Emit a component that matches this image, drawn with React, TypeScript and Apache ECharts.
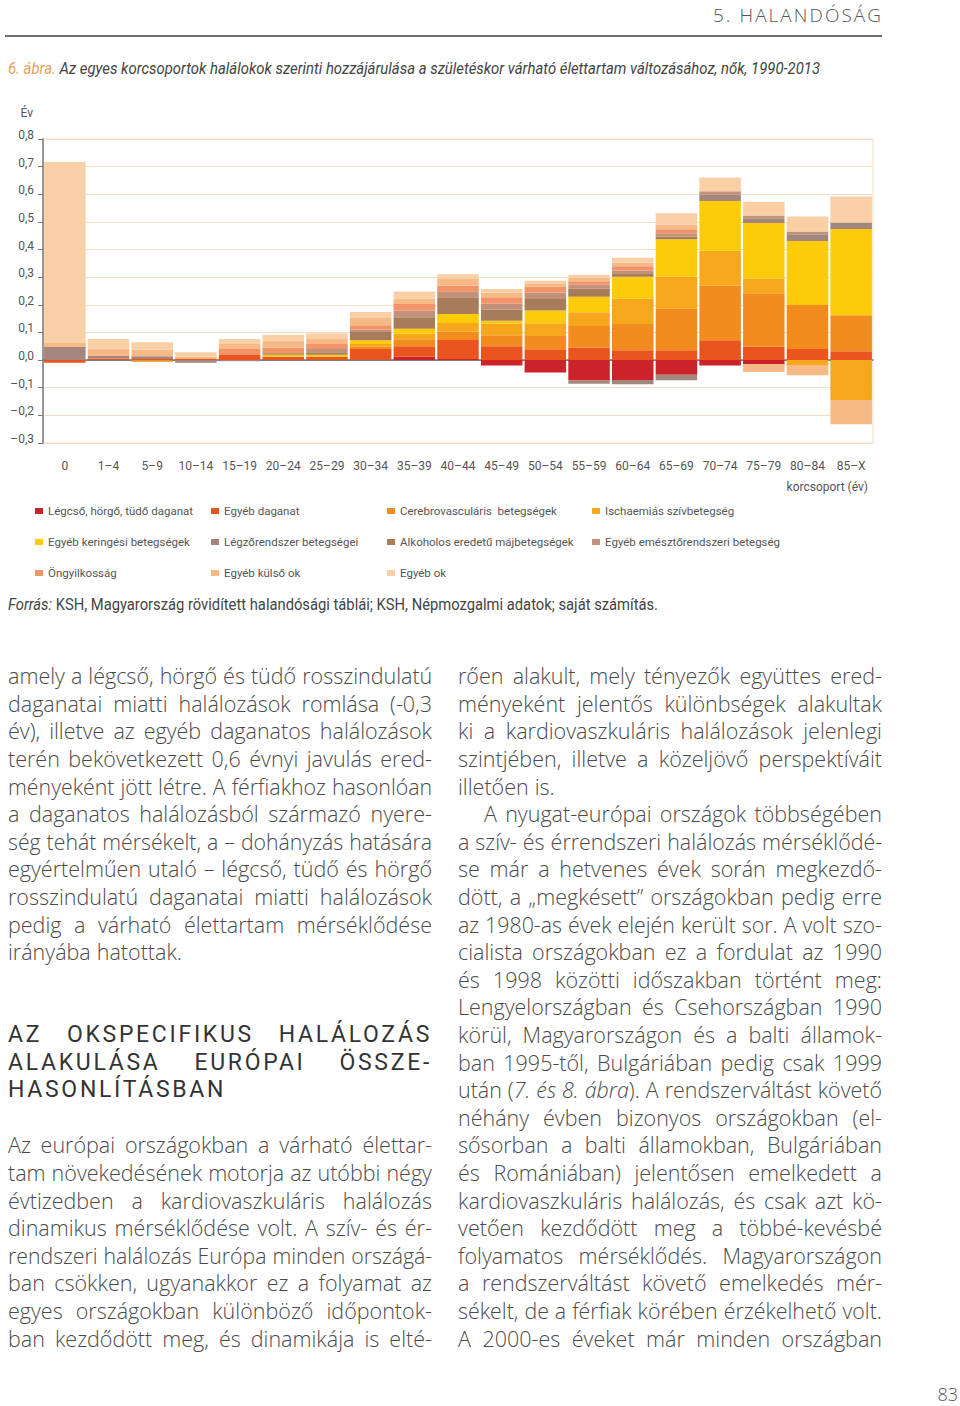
import React, { useEffect, useLayoutEffect, useRef } from 'react';
import * as echarts from 'echarts';

// ---------- DATA ----------
const categories = ['0', '1–4', '5–9', '10–14', '15–19', '20–24', '25–29', '30–34', '35–39', '40–44', '45–49', '50–54', '55–59', '60–64', '65–69', '70–74', '75–79', '80–84', '85–X'];

const seriesNames = [
  'Légcső, hörgő, tüdő daganat',
  'Egyéb daganat',
  'Cerebrovasculáris  betegségek',
  'Ischaemiás szívbetegség',
  'Egyéb keringési betegségek',
  'Légzőrendszer betegségei',
  'Alkoholos eredetű májbetegségek',
  'Egyéb emésztőrendszeri betegség',
  'Öngyilkosság',
  'Egyéb külső ok',
  'Egyéb ok',
];

const legcso = [0, 0, 0, 0, 0, 0, 0, 0.002, 0.012, 0.004, -0.02, -0.045, -0.074, -0.072, -0.053, -0.02, -0.014, 0, 0];
const egyebDaganat = [-0.01, 0.006, 0.004, 0.006, 0.018, 0.012, 0.012, 0.038, 0.038, 0.069, 0.05, 0.039, 0.045, 0.036, 0.036, 0.072, 0.048, 0.04, 0.032];
const cerebro = [0, 0, -0.006, 0, 0, 0, 0, 0.008, 0.025, 0.03, 0.04, 0.048, 0.078, 0.095, 0.15, 0.197, 0.194, 0.159, 0.13];
const ischaemias = [0, 0, 0, 0, 0, 0, 0, 0.01, 0.02, 0.031, 0.042, 0.046, 0.05, 0.091, 0.116, 0.127, 0.053, -0.018, -0.144];
const egyebKeringesi = [0, 0, 0, 0, 0, 0.007, 0.007, 0.014, 0.018, 0.033, 0.01, 0.046, 0.056, 0.08, 0.135, 0.18, 0.201, 0.232, 0.312];
const legzo = [0.047, 0.009, 0.01, -0.01, -0.004, 0, 0, 0, 0, 0, 0, 0, -0.012, -0.015, -0.02, 0.023, 0.017, 0.024, 0.024];
const alkoholos = [0, 0, 0, 0, 0, 0.006, 0.009, 0.03, 0.042, 0.06, 0.041, 0.042, 0.029, 0.012, 0.01, 0, 0, 0, 0];
const egyebEmeszto = [0, 0, 0, 0, 0, 0, 0.012, 0.008, 0.024, 0.022, 0.022, 0.024, 0.015, 0.01, 0.012, 0.012, 0.01, 0.01, 0];
const ongyilkossag = [0, 0, 0, 0, 0.022, 0.021, 0.018, 0.016, 0.024, 0.02, 0.022, 0.02, 0.012, 0.016, 0.014, 0, 0, 0, 0];
const egyebKulso = [0.015, 0.027, 0.024, 0.007, 0.018, 0.024, 0.018, 0.026, 0.02, 0.024, 0.017, 0.01, 0.012, 0.012, 0.018, 0, -0.029, -0.037, -0.088];
const egyebOk = [0.655, 0.034, 0.027, 0.015, 0.018, 0.022, 0.021, 0.022, 0.025, 0.018, 0.013, 0.012, 0.012, 0.018, 0.04, 0.05, 0.05, 0.055, 0.094];

const seriesData = [legcso, egyebDaganat, cerebro, ischaemias, egyebKeringesi, legzo, alkoholos, egyebEmeszto, ongyilkossag, egyebKulso, egyebOk];

const colors = ['#cc2229', '#e9541f', '#f28c1f', '#f7a71b', '#fdcb09', '#a3877e', '#a77c5a', '#c19279', '#f29467', '#f7b986', '#f9cfa5'];

const yMin = -0.3;
const yMax = 0.8;
const yStep = 0.1;

const legendColumns = [
  [0, 4, 8],
  [1, 5, 9],
  [2, 6, 10],
  [3, 7],
];
const legendLefts = [30, 206, 382, 587];

// ---------- TEXT ----------
const leftPara1 = [
  'amely a légcső, hörgő és tüdő rosszindulatú',
  'daganatai miatti halálozások romlása (-0,3',
  'év), illetve az egyéb daganatos halálozások',
  'terén bekövetkezett 0,6 évnyi javulás ered-',
  'ményeként jött létre. A férfiakhoz hasonlóan',
  'a daganatos halálozásból származó nyere-',
  'ség tehát mérsékelt, a – dohányzás hatására',
  'egyértelműen utaló – légcső, tüdő és hörgő',
  'rosszindulatú daganatai miatti halálozások',
  'pedig a várható élettartam mérséklődése',
  'irányába hatottak.',
];
const headingLines = ['AZ OKSPECIFIKUS HALÁLOZÁS', 'ALAKULÁSA EURÓPAI ÖSSZE-', 'HASONLÍTÁSBAN'];
const leftPara2 = [
  'Az európai országokban a várható élettar-',
  'tam növekedésének motorja az utóbbi négy',
  'évtizedben a kardiovaszkuláris halálozás',
  'dinamikus mérséklődése volt. A szív- és ér-',
  'rendszeri halálozás Európa minden országá-',
  'ban csökken, ugyanakkor ez a folyamat az',
  'egyes országokban különböző időpontok-',
  'ban kezdődött meg, és dinamikája is elté-',
];
const rightLines = [
  'rően alakult, mely tényezők együttes ered-',
  'ményeként jelentős különbségek alakultak',
  'ki a kardiovaszkuláris halálozások jelenlegi',
  'szintjében, illetve a közeljövő perspektíváit',
  'illetően is.',
  'A nyugat-európai országok többségében',
  'a szív- és érrendszeri halálozás mérséklődé-',
  'se már a hetvenes évek során megkezdő-',
  'dött, a „megkésett” országokban pedig erre',
  'az 1980-as évek elején került sor. A volt szo-',
  'cialista országokban ez a fordulat az 1990',
  'és 1998 közötti időszakban történt meg:',
  'Lengyelországban és Csehországban 1990',
  'körül, Magyarországon és a balti államok-',
  'ban 1995-től, Bulgáriában pedig csak 1999',
  'után (|7. és 8. ábra|). A rendszerváltást követő',
  'néhány évben bizonyos országokban (el-',
  'sősorban a balti államokban, Bulgáriában',
  'és Romániában) jelentősen emelkedett a',
  'kardiovaszkuláris halálozás, és csak azt kö-',
  'vetően kezdődött meg a többé-kevésbé',
  'folyamatos mérséklődés. Magyarországon',
  'a rendszerváltást követő emelkedés mér-',
  'sékelt, de a férfiak körében érzékelhető volt.',
  'A 2000-es éveket már minden országban',
];
const rightLastLines = [4];
const rightIndented = [5];

const CHARTFONT = "'Roboto', 'Liberation Sans', sans-serif";
const BODY = "'Open Sans', 'Lato', sans-serif";
const HEAD = "'Roboto', 'Open Sans', sans-serif";
const LH = 27.6;

// Parse a line into words, with |...| marking italic runs
function parseWords(text: string) {
  const words: { parts: { t: string; it: boolean }[] }[] = [];
  let italic = false;
  for (const w of text.split(' ')) {
    const parts: { t: string; it: boolean }[] = [];
    let buf = '';
    for (const ch of w) {
      if (ch === '|') {
        if (buf) parts.push({ t: buf, it: italic });
        buf = '';
        italic = !italic;
      } else buf += ch;
    }
    if (buf) parts.push({ t: buf, it: italic });
    words.push({ parts });
  }
  return words;
}

function FitLine({ text, justify, top, left, width, style, minGap }: any) {
  const ref = useRef<HTMLDivElement>(null);
  useLayoutEffect(() => {
    const el = ref.current;
    if (!el) return;
    el.style.transform = '';
    el.style.width = width + 'px';
    const natural = el.scrollWidth;
    if (natural > width + 0.5) {
      el.style.width = natural + 'px';
      el.style.transform = `scaleX(${width / natural})`;
    }
  }, [text, width]);
  const words = parseWords(text);
  return (
    <div
      ref={ref}
      style={{
        position: 'absolute',
        top,
        left,
        width,
        height: LH,
        lineHeight: LH + 'px',
        display: 'flex',
        justifyContent: justify ? 'space-between' : 'flex-start',
        columnGap: minGap,
        whiteSpace: 'nowrap',
        transformOrigin: 'left center',
        ...style,
      }}
    >
      {words.map((w, i) => (
        <span key={i}>
          {w.parts.map((p, j) => (p.it ? <i key={j}>{p.t}</i> : <span key={j}>{p.t}</span>))}
        </span>
      ))}
    </div>
  );
}

// Single-line text scaled horizontally to exactly the target width
function FitText({ children, left, top, width, style }: any) {
  const ref = useRef<HTMLSpanElement>(null);
  useLayoutEffect(() => {
    const el = ref.current;
    if (!el) return;
    el.style.transform = '';
    const natural = el.getBoundingClientRect().width;
    if (natural > 0) el.style.transform = `scaleX(${width / natural})`;
  }, []);
  return (
    <span
      ref={ref}
      style={{ position: 'absolute', left, top, whiteSpace: 'nowrap', display: 'inline-block', transformOrigin: 'left center', ...style }}
    >
      {children}
    </span>
  );
}

export default function App() {
  const ref = useRef<HTMLDivElement>(null);

  useEffect(() => {
    const chart = echarts.init(ref.current!, null, { renderer: 'svg' });
    const gridPeach = '#f2ddc6';
    const axisGrey = '#7a7a7a';
    const nLines = Math.round((yMax - yMin) / yStep) + 1;
    const splitColors = Array.from({ length: nLines }, (_, i) =>
      Math.abs(yMin + i * yStep) < 1e-9 ? '#8c8c8c' : gridPeach
    );
    const fmt = (v: number) => {
      const r = Math.round(v * 10) / 10;
      const s = Math.abs(r).toFixed(1).replace('.', ',');
      return r < 0 ? '–' + s : s;
    };
    chart.setOption({
      animation: false,
      textStyle: { fontFamily: CHARTFONT },
      grid: { left: 43, right: 87, top: 49, height: 304, show: true, borderColor: gridPeach, borderWidth: 1 },
      xAxis: {
        type: 'category',
        data: categories,
        axisLine: { lineStyle: { color: axisGrey, width: 1.5 } },
        axisTick: { length: 5, lineStyle: { color: axisGrey } },
        axisLabel: { color: '#555', fontSize: 12, margin: 17, interval: 0, fontFamily: CHARTFONT },
        splitLine: { show: false },
      },
      yAxis: {
        type: 'value',
        min: yMin,
        max: yMax,
        interval: yStep,
        name: 'Év',
        nameLocation: 'end',
        nameGap: 20,
        nameTextStyle: { color: '#555', fontSize: 12, align: 'right', padding: [0, 10, 0, 0], fontFamily: CHARTFONT },
        axisLine: { show: true, lineStyle: { color: axisGrey, width: 1.5 } },
        axisTick: { show: true, length: 5, lineStyle: { color: axisGrey } },
        axisLabel: { color: '#555', fontSize: 12, margin: 9, formatter: fmt, verticalAlign: 'bottom', lineHeight: 8, fontFamily: CHARTFONT },
        splitLine: { show: true, lineStyle: { color: splitColors, width: 1 } },
      },
      legend: legendColumns.map((col, ci) => ({
        data: col.map((i) => seriesNames[i]),
        orient: 'vertical',
        left: legendLefts[ci],
        top: 409,
        itemWidth: 8,
        itemHeight: 6,
        itemGap: 17,
        icon: 'rect',
        selectedMode: false,
        textStyle: { color: '#555', fontSize: 11.5, lineHeight: 14, fontFamily: CHARTFONT },
      })),
      graphic: [
        {
          type: 'text',
          right: 92,
          top: 391,
          style: { text: 'korcsoport (év)', fill: '#555', font: `12px ${CHARTFONT}` },
        },
      ],
      series: seriesNames.map((n, i) => ({
        name: n,
        type: 'bar',
        stack: 'total',
        data: seriesData[i],
        barCategoryGap: '5%',
        itemStyle: { color: colors[i] },
      })),
    });
    return () => chart.dispose();
  }, []);

  const bodyStyle = { fontFamily: BODY, fontWeight: 300, fontSize: 21.5, color: '#4a4a4a' };
  const colTop = 676 - LH / 2;

  return (
    <div style={{ position: 'absolute', left: 0, top: 0, width: 960, height: 1406, background: '#fff', overflow: 'hidden' }}>
      <FitText left={713} top={3} width={170} style={{ fontFamily: BODY, fontWeight: 300, fontSize: 18, letterSpacing: 2, color: '#555' }}>
        5. HALANDÓSÁG
      </FitText>
      <div style={{ position: 'absolute', left: 5, top: 35, width: 877, height: 1.5, background: '#707070' }} />
      <FitText left={8} top={59} width={812} style={{ fontFamily: CHARTFONT, fontStyle: 'italic', fontSize: 16.5, color: '#444' }}>
        <span style={{ color: '#e5a25c' }}>6. ábra.</span> Az egyes korcsoportok halálokok szerinti hozzájárulása a születéskor várható élettartam változásához, nők, 1990-2013
      </FitText>

      <div ref={ref} style={{ position: 'absolute', left: 0, top: 90, width: 960, height: 500 }} />

      <FitText left={8} top={595} width={650} style={{ fontFamily: CHARTFONT, fontSize: 16, color: '#444' }}>
        <i>Forrás:</i> KSH, Magyarország rövidített halandósági táblái; KSH, Népmozgalmi adatok; saját számítás.
      </FitText>

      {leftPara1.map((t, i) => (
        <FitLine key={'a' + i} text={t} justify={i !== leftPara1.length - 1} minGap={6} top={colTop + i * LH} left={8} width={424} style={bodyStyle} />
      ))}
      {headingLines.map((t, i) => (
        <FitLine
          key={'h' + i}
          text={t}
          justify={i !== headingLines.length - 1}
          minGap={12}
          top={colTop + (13 + i) * LH}
          left={8}
          width={424}
          style={{ fontFamily: HEAD, fontWeight: 400, fontSize: 23, letterSpacing: 2.7, color: '#333' }}
        />
      ))}
      {leftPara2.map((t, i) => (
        <FitLine key={'b' + i} text={t} justify minGap={6} top={colTop + (17 + i) * LH} left={8} width={424} style={bodyStyle} />
      ))}
      {rightLines.map((t, i) => {
        const ind = rightIndented.includes(i) ? 26 : 0;
        return (
          <FitLine
            key={'r' + i}
            text={t}
            justify={!rightLastLines.includes(i)}
            minGap={6}
            top={colTop + i * LH}
            left={458 + ind}
            width={424 - ind}
            style={bodyStyle}
          />
        );
      })}
      <div style={{ position: 'absolute', right: 2, top: 1382, fontFamily: BODY, fontWeight: 300, fontSize: 18, color: '#555' }}>83</div>
    </div>
  );
}
